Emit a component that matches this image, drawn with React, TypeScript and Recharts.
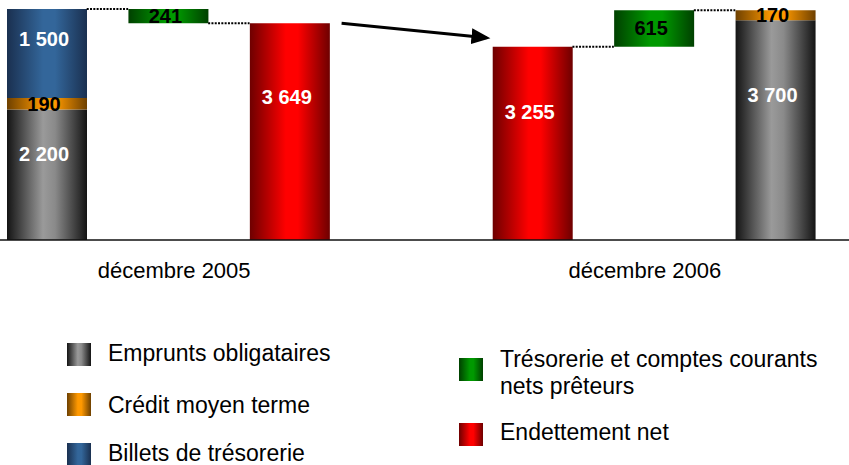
import React from "react"
import { Bar, BarChart, LabelList, ReferenceLine, XAxis, YAxis } from "recharts"

const periods = ["décembre 2005", "décembre 2006"]
const empruntsObligataires = [2200, 3700]
const creditMoyenTerme = [190, 170]
const billetsTresorerie = [1500, 0]
const tresorerieNette = [241, 615]
const endettementNet = [3649, 3255]

const legendNames = {
  emprunts: "Emprunts obligataires",
  credit: "Crédit moyen terme",
  billets: "Billets de trésorerie",
  treso: ["Trésorerie et comptes courants", "nets prêteurs"],
  net: "Endettement net",
}

const FONT = "Arial, 'Liberation Sans', sans-serif"
const BAR = 80

const total = (i: number) =>
  empruntsObligataires[i] + creditMoyenTerme[i] + billetsTresorerie[i]

const detailRow = (i: number) => ({
  key: `det${i}`,
  emprunts: empruntsObligataires[i],
  credit: creditMoyenTerme[i],
  billets: billetsTresorerie[i] || undefined,
})
const tresoRow = (i: number) => ({
  key: `treso${i}`,
  base: endettementNet[i],
  treso: tresorerieNette[i],
})
const netRow = (i: number) => ({ key: `net${i}`, net: endettementNet[i] })

const data = [
  detailRow(0),
  tresoRow(0),
  netRow(0),
  { key: "gap" },
  netRow(1),
  tresoRow(1),
  detailRow(1),
]

const tickLabels: Record<string, string> = {
  treso0: periods[0],
  treso1: periods[1],
}
// small horizontal nudges so the period labels sit where the original has them
const tickShift: Record<string, number> = { treso0: 6, treso1: -9 }

const fmt = (v: number) =>
  v >= 1000 ? `${Math.floor(v / 1000)} ${String(v % 1000).padStart(3, "0")}` : String(v)

const makeLabel = (color: string) => (props: any) => {
  const vb = props.viewBox ?? props
  const { x, y, width, height } = vb
  const value = props.value
  if (!value) return null
  const h = Math.abs(height)
  const top = height < 0 ? y + height : y
  const cy = h > 60 ? top + h * 0.34 : top + h / 2
  return (
    <text
      x={x + width / 2 - 3}
      y={cy}
      fill={color}
      textAnchor="middle"
      dominantBaseline="central"
      fontFamily={FONT}
      fontWeight="bold"
      fontSize={20}
    >
      {fmt(value)}
    </text>
  )
}

const connector = (p: any) => (
  <line
    x1={p.x1 + BAR / 2}
    y1={p.y1}
    x2={p.x2 - BAR / 2}
    y2={p.y2}
    stroke="#000"
    strokeWidth={2}
    strokeDasharray="2 1.3"
  />
)

const arrow = (p: any) => (
  <line
    x1={p.x1 + 52}
    y1={p.y1}
    x2={p.x2 - 46}
    y2={p.y2 - 9}
    stroke="#000"
    strokeWidth={3}
    markerEnd="url(#arrowHead)"
  />
)

const Tick = (props: any) => {
  const key = props.payload?.value
  const label = tickLabels[key]
  if (!label) return null
  return (
    <text
      x={props.x + (tickShift[key] ?? 0)}
      y={props.y + 38}
      textAnchor="middle"
      fontFamily={FONT}
      fontSize={22}
      fill="#000"
    >
      {label}
    </text>
  )
}

const gradient = (id: string, edge: string, mid: string, extra?: string) => (
  <linearGradient id={id} x1="0" y1="0" x2="1" y2="0">
    <stop offset="0" stopColor={edge} />
    <stop offset="0.45" stopColor={mid} />
    <stop offset="0.6" stopColor={extra ?? mid} />
    <stop offset="1" stopColor={edge} />
  </linearGradient>
)

const Defs = () => (
  <defs>
    {gradient("gGray", "#141414", "#9a9a9a", "#8a8a8a")}
    {gradient("gOrange", "#6e4000", "#ff9900")}
    {gradient("gBlue", "#1a3050", "#33669a")}
    {gradient("gGreen", "#004000", "#009900")}
    {gradient("gRed", "#6e0000", "#ff0000")}
    <marker
      id="arrowHead"
      markerUnits="userSpaceOnUse"
      markerWidth={20}
      markerHeight={16}
      refX={15}
      refY={8}
      orient="auto"
    >
      <path d="M0,0 L19,8 L0,16 z" fill="#000" />
    </marker>
  </defs>
)

const legendItems = [
  { fill: "url(#gGray)", x: 67, y: 343, lines: [legendNames.emprunts], base: 361 },
  { fill: "url(#gOrange)", x: 67, y: 393, lines: [legendNames.credit], base: 413 },
  { fill: "url(#gBlue)", x: 67, y: 443, lines: [legendNames.billets], base: 461 },
  { fill: "url(#gGreen)", x: 459, y: 358, lines: legendNames.treso, base: 367 },
  { fill: "url(#gRed)", x: 459, y: 423, lines: [legendNames.net], base: 440 },
]

export default function App() {
  return (
    <div
      style={{
        position: "absolute",
        left: 0,
        top: 0,
        width: 849,
        height: 465,
        overflow: "hidden",
        background: "#fff",
      }}
    >
      <div style={{ position: "absolute", left: -14, top: 0 }}>
        <BarChart
          width={863}
          height={290}
          data={data}
          margin={{ top: 2.5, right: 0, left: 0, bottom: 0 }}
          barSize={BAR}
        >
          <Defs />
          <XAxis
            dataKey="key"
            interval={0}
            tickLine={false}
            tickSize={0}
            tickMargin={0}
            height={50}
            padding={{ left: 0, right: 13 }}
            axisLine={{ stroke: "#111", strokeWidth: 1.5 }}
            tick={<Tick />}
          />
          <YAxis hide domain={[0, 4000]} />
          <Bar dataKey="base" stackId="a" fill="transparent" isAnimationActive={false} />
          <Bar dataKey="emprunts" stackId="a" fill="url(#gGray)" isAnimationActive={false}>
            <LabelList dataKey="emprunts" content={makeLabel("#fff")} />
          </Bar>
          <Bar dataKey="credit" stackId="a" fill="url(#gOrange)" isAnimationActive={false}>
            <LabelList dataKey="credit" content={makeLabel("#000")} />
          </Bar>
          <Bar dataKey="billets" stackId="a" fill="url(#gBlue)" isAnimationActive={false}>
            <LabelList dataKey="billets" content={makeLabel("#fff")} />
          </Bar>
          <Bar dataKey="treso" stackId="a" fill="url(#gGreen)" isAnimationActive={false}>
            <LabelList dataKey="treso" content={makeLabel("#000")} />
          </Bar>
          <Bar dataKey="net" stackId="a" fill="url(#gRed)" isAnimationActive={false}>
            <LabelList dataKey="net" content={makeLabel("#fff")} />
          </Bar>
          <ReferenceLine
            segment={[{ x: "det0", y: total(0) }, { x: "treso0", y: total(0) }]}
            shape={connector}
          />
          <ReferenceLine
            segment={[{ x: "treso0", y: endettementNet[0] }, { x: "net0", y: endettementNet[0] }]}
            shape={connector}
          />
          <ReferenceLine
            segment={[{ x: "net1", y: endettementNet[1] }, { x: "treso1", y: endettementNet[1] }]}
            shape={connector}
          />
          <ReferenceLine
            segment={[{ x: "treso1", y: total(1) }, { x: "det1", y: total(1) }]}
            shape={connector}
          />
          <ReferenceLine
            segment={[{ x: "net0", y: endettementNet[0] }, { x: "net1", y: endettementNet[1] }]}
            shape={arrow}
          />
        </BarChart>
      </div>
      <svg
        width={849}
        height={465}
        style={{ position: "absolute", left: 0, top: 0, pointerEvents: "none" }}
      >
        <Defs />
        {legendItems.map((it) => (
          <g key={it.lines[0]}>
            <rect x={it.x} y={it.y} width={24} height={23} fill={it.fill} />
            {it.lines.map((line, j) => (
              <text
                key={line}
                x={it.x + 41}
                y={it.base + j * 27}
                fontFamily={FONT}
                fontSize={23}
                fill="#000"
              >
                {line}
              </text>
            ))}
          </g>
        ))}
      </svg>
    </div>
  )
}
